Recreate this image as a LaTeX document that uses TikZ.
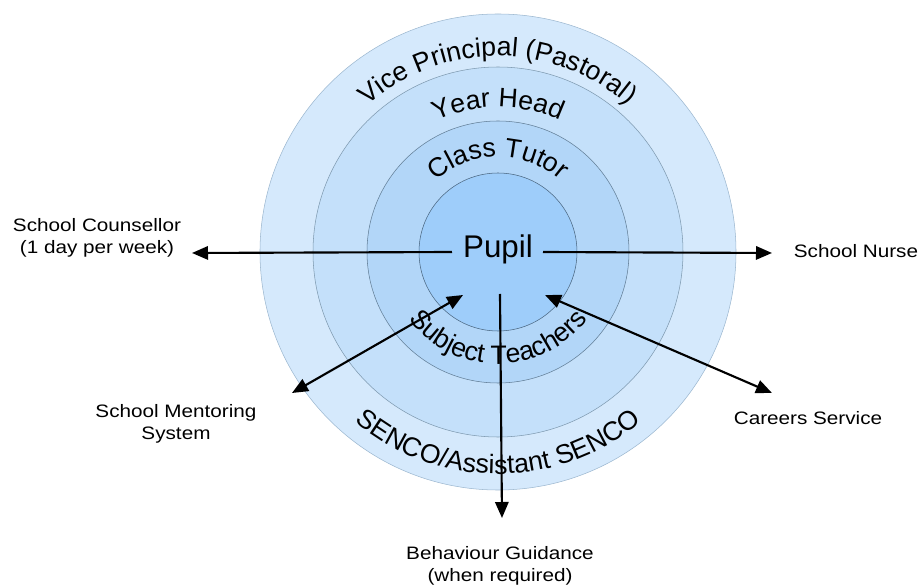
\documentclass[tikz,border=0pt]{standalone}
\usepackage{fontspec}
\setmainfont{Liberation Sans}
\newfontfamily\labelfont[FakeStretch=1.15]{Liberation Sans}
\usetikzlibrary{arrows.meta,decorations.text}

\definecolor{ringA}{HTML}{D5E9FC}
\definecolor{ringB}{HTML}{C4E0FA}
\definecolor{ringC}{HTML}{B2D6F8}
\definecolor{ringD}{HTML}{9ECDFA}
\definecolor{edgeA}{HTML}{9DB8D0}
\definecolor{edgeB}{HTML}{7F9AB0}
\definecolor{edgeC}{HTML}{627E96}
\definecolor{edgeD}{HTML}{4A6680}

\newcommand{\ringfont}{\fontsize{20}{20}\selectfont}

\tikzset{
  outer/.style={font=\labelfont\fontsize{13.5}{16.5}\selectfont, align=center, inner sep=1pt},
  link/.style={line width=1.6pt, -{Triangle[length=12pt,width=10pt]}},
  both/.style={line width=1.6pt, {Triangle[length=12pt,width=10pt]}-{Triangle[length=12pt,width=10pt]}},
  ringtext/.style={decorate, decoration={text along path, text align=center, text={|\ringfont|#1}}}
}

\begin{document}
\begin{tikzpicture}[x=0.75pt,y=0.75pt]
    \useasboundingbox (-498,-336) rectangle (423,252);
    % rings
    \draw[fill=ringA, draw=edgeA] (0,0) circle[radius=238];
    \draw[fill=ringB, draw=edgeB] (0,0) circle[radius=185];
    \draw[fill=ringC, draw=edgeC] (0,0) circle[radius=131];
    \draw[fill=ringD, draw=edgeD] (0,0) circle[radius=79];
    % ring labels
    \path[ringtext={Vice Principal (Pastoral)}] (170:196) arc[start angle=170, end angle=10, radius=196];
    \path[ringtext={Year Head}] (170:145) arc[start angle=170, end angle=10, radius=145];
    \path[ringtext={Class Tutor}] (170:95) arc[start angle=170, end angle=10, radius=95];
    \path[ringtext={Subject Teachers}] (190:112) arc[start angle=190, end angle=350, radius=112];
    \path[ringtext={SENCO/Assistant SENCO}] (190:222) arc[start angle=190, end angle=350, radius=222];

    \node[font=\fontsize{23.5}{23.5}\selectfont] (pupil) at (0,3) {Pupil};
    \coordinate (pupilL) at (-46,0);
    \coordinate (pupilR) at (45,0);
    \coordinate (pupilB) at (2,-42);
    \coordinate (pupilBL) at (-35,-43);
    \coordinate (pupilBR) at (47,-43);

    \node[outer] (counsellor) at (-401,14) {School Counsellor\\(1 day per week)};
    \node[outer] (nurse) at (358,1) {School Nurse};
    \node[outer] (mentoring) at (-322,-172) {School Mentoring\\System};
    \node[outer] (careers) at (310,-166) {Careers Service};
    \node[outer] (behaviour) at (2,-314) {Behaviour Guidance\\(when required)};

    \coordinate (tipL) at (-306,-1);
    \coordinate (tipR) at (274,-1);
    \coordinate (tipB) at (4,-266);
    \coordinate (tipBL) at (-206,-141);
    \coordinate (tipBR) at (274,-141);

    \draw[link] (pupilL) -- (tipL);
    \draw[link] (pupilR) -- (tipR);
    \draw[link] (pupilB) -- (tipB);
    \draw[both] (tipBL) -- (pupilBL);
    \draw[both] (tipBR) -- (pupilBR);
\end{tikzpicture}
\end{document}
